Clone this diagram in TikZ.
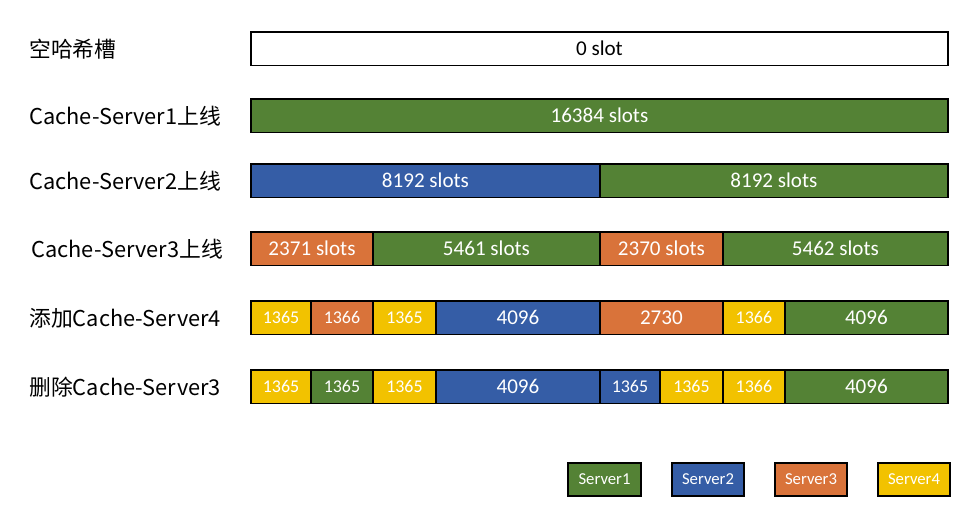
\documentclass[tikz,border=0pt]{standalone}
\usepackage{fontspec}
\usepackage{xcolor}
\usepackage{tikz}
\usetikzlibrary{positioning}
\newfontfamily\cjk{Noto Sans CJK SC}
\newfontfamily\calfont{Carlito}
\definecolor{sgreen}{HTML}{548235}
\definecolor{sblue}{HTML}{355DA6}
\definecolor{sorange}{HTML}{D9733A}
\definecolor{syellow}{HTML}{F2C200}
\tikzset{
  seg/.style={draw,line width=0.8pt,outer sep=0pt,inner sep=0pt,
    minimum height=0.67cm,text=white,font=\calfont\fontsize{12}{12}\selectfont},
  small/.style={font=\calfont\fontsize{10.2}{10}\selectfont},
  rowlabel/.style={anchor=west,inner sep=0pt,font=\cjk\fontsize{12.4}{12.4}\selectfont},
  legendbox/.style={draw,line width=1pt,inner sep=0pt,minimum width=1.45cm,
    minimum height=0.66cm,text=white,font=\calfont\fontsize{9.5}{9.5}\selectfont}
}

\begin{document}
\begin{tikzpicture}[x=0.02cm,y=-0.02cm]
    \useasboundingbox (0,0) rectangle (979,518);
    % row labels
    \node[rowlabel] (l1) at (29,49) {空哈希槽};
    \node[rowlabel] (l2) at (29,116) {Cache-Server1上线};
    \node[rowlabel] (l3) at (29,181) {Cache-Server2上线};
    \node[rowlabel] (l4) at (31,249) {Cache-Server3上线};
    \node[rowlabel] (l5) at (29,318) {添加Cache-Server4};
    \node[rowlabel] (l6) at (29,387) {删除Cache-Server3};
    % empty
    \node[seg,fill=white,text=black,anchor=north west,minimum width=13.94cm] (r1) at (251,32) {0 slot};
    % server1
    \node[seg,fill=sgreen,anchor=north west,minimum width=13.94cm] (r2) at (251,99) {16384 slots};
    % server2
    \node[seg,fill=sblue,anchor=north west,minimum width=6.98cm] (r3a) at (251,164) {8192 slots};
    \node[seg,fill=sgreen,right=0pt of r3a,minimum width=6.96cm] (r3b) {8192 slots};
    % server3
    \node[seg,fill=sorange,anchor=north west,minimum width=2.44cm] (r4a) at (251,232) {2371 slots};
    \node[seg,fill=sgreen,right=0pt of r4a,minimum width=4.54cm] (r4b) {5461 slots};
    \node[seg,fill=sorange,right=0pt of r4b,minimum width=2.46cm] (r4c) {2370 slots};
    \node[seg,fill=sgreen,right=0pt of r4c,minimum width=4.50cm] (r4d) {5462 slots};
    % server4 added
    \node[seg,small,fill=syellow,anchor=north west,minimum width=1.20cm] (r5a) at (251,301) {1365};
    \node[seg,small,fill=sorange,right=0pt of r5a,minimum width=1.24cm] (r5b) {1366};
    \node[seg,small,fill=syellow,right=0pt of r5b,minimum width=1.26cm] (r5c) {1365};
    \node[seg,fill=sblue,right=0pt of r5c,minimum width=3.28cm] (r5d) {4096};
    \node[seg,fill=sorange,right=0pt of r5d,minimum width=2.46cm] (r5e) {2730};
    \node[seg,small,fill=syellow,right=0pt of r5e,minimum width=1.24cm] (r5f) {1366};
    \node[seg,fill=sgreen,right=0pt of r5f,minimum width=3.26cm] (r5g) {4096};
    % server3 removed
    \node[seg,small,fill=syellow,anchor=north west,minimum width=1.20cm] (r6a) at (251,370) {1365};
    \node[seg,small,fill=sgreen,right=0pt of r6a,minimum width=1.24cm] (r6b) {1365};
    \node[seg,small,fill=syellow,right=0pt of r6b,minimum width=1.26cm] (r6c) {1365};
    \node[seg,fill=sblue,right=0pt of r6c,minimum width=3.28cm] (r6d) {4096};
    \node[seg,small,fill=sblue,right=0pt of r6d,minimum width=1.20cm] (r6e) {1365};
    \node[seg,small,fill=syellow,right=0pt of r6e,minimum width=1.26cm] (r6f) {1365};
    \node[seg,small,fill=syellow,right=0pt of r6f,minimum width=1.24cm] (r6g) {1366};
    \node[seg,fill=sgreen,right=0pt of r6g,minimum width=3.26cm] (r6h) {4096};
    % legend
    \node[legendbox,fill=sgreen] (k1) at (604.5,479.5) {Server1};
    \node[legendbox,fill=sblue] (k2) at (708,479.5) {Server2};
    \node[legendbox,fill=sorange] (k3) at (811,479.5) {Server3};
    \node[legendbox,fill=syellow] (k4) at (914,479.5) {Server4};
\end{tikzpicture}
\end{document}
